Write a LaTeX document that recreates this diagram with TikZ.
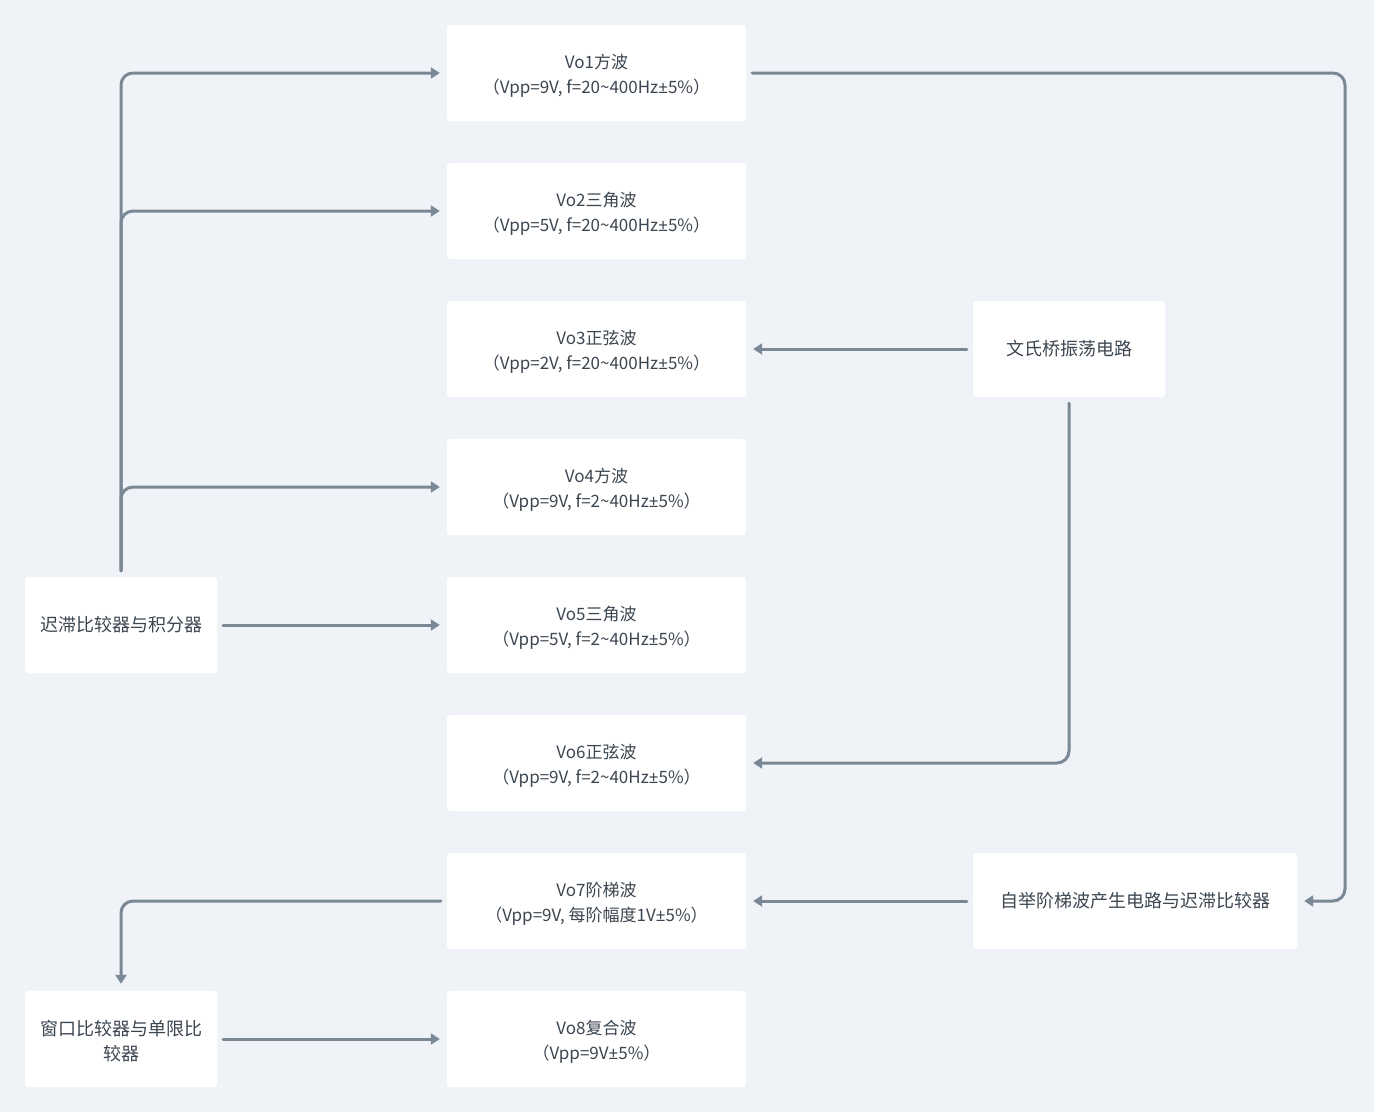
\documentclass[tikz,border=0pt]{standalone}
\usepackage{fontspec}
\setmainfont{Noto Sans CJK SC}
\newfontfamily\pmfont{Noto Sans}
\newcommand\mypm{{\pmfont ±}}
\newcommand\tstrut{\rule{0pt}{20pt}}
\usetikzlibrary{arrows.meta}
\definecolor{bg}{HTML}{EFF3F7}
\definecolor{ln}{HTML}{7A8896}
\definecolor{tx}{HTML}{3C4650}
\begin{document}
\begin{tikzpicture}[x=1pt,y=-1pt,
  box/.style={fill=white, rounded corners=3pt, minimum width=299pt, minimum height=96pt,
    align=center, text=tx, font=\fontsize{17}{25}\selectfont, inner sep=0pt},
  sbox/.style={box, minimum width=192pt, font=\fontsize{18}{25}\selectfont},
  conn/.style={draw=ln, line width=3pt, line cap=round, rounded corners=12pt,
    shorten <=6pt, shorten >=7pt, -{Triangle[length=9pt,width=11pt]}}]
\fill[bg] (0,0) rectangle (1374,1112);
\useasboundingbox (0,0) rectangle (1374,1112);

\node[box] (v1) at (596.5,73)  {\tstrut Vo1方波\\（Vpp=9V, f=20\textasciitilde400Hz\mypm5\%）};
\node[box] (v2) at (596.5,211) {\tstrut Vo2三角波\\（Vpp=5V, f=20\textasciitilde400Hz\mypm5\%）};
\node[box] (v3) at (596.5,349) {\tstrut Vo3正弦波\\（Vpp=2V, f=20\textasciitilde400Hz\mypm5\%）};
\node[box] (v4) at (596.5,487) {\tstrut Vo4方波\\（Vpp=9V, f=2\textasciitilde40Hz\mypm5\%）};
\node[box] (v5) at (596.5,625) {\tstrut Vo5三角波\\（Vpp=5V, f=2\textasciitilde40Hz\mypm5\%）};
\node[box] (v6) at (596.5,763) {\tstrut Vo6正弦波\\（Vpp=9V, f=2\textasciitilde40Hz\mypm5\%）};
\node[box] (v7) at (596.5,901) {\tstrut Vo7阶梯波\\（Vpp=9V, 每阶幅度1V\mypm5\%）};
\node[box] (v8) at (596.5,1039) {\tstrut Vo8复合波\\（Vpp=9V\mypm5\%）};

\node[sbox] (hz) at (121,625) {迟滞比较器与积分器};
\node[sbox] (wq) at (121,1039) {\tstrut 窗口比较器与单限比\\较器};
\node[sbox] (wb) at (1069,349) {文氏桥振荡电路};
\node[sbox, minimum width=324pt] (zj) at (1135,901) {自举阶梯波产生电路与迟滞比较器};

\coordinate (rc) at (1345,73);

\draw[conn] (hz.north) |- (v1.west);
\draw[conn] (hz.north) |- (v2.west);
\draw[conn] (hz.north) |- (v4.west);
\draw[conn] (hz.east) -- (v5.west);
\draw[conn] (wb.west) -- (v3.east);
\draw[conn] (wb.south) |- (v6.east);
\draw[conn] (v1.east) -- (rc) |- (zj.east);
\draw[conn] (zj.west) -- (v7.east);
\draw[conn] (v7.west) -| (wq.north);
\draw[conn] (wq.east) -- (v8.west);
\end{tikzpicture}
\end{document}
